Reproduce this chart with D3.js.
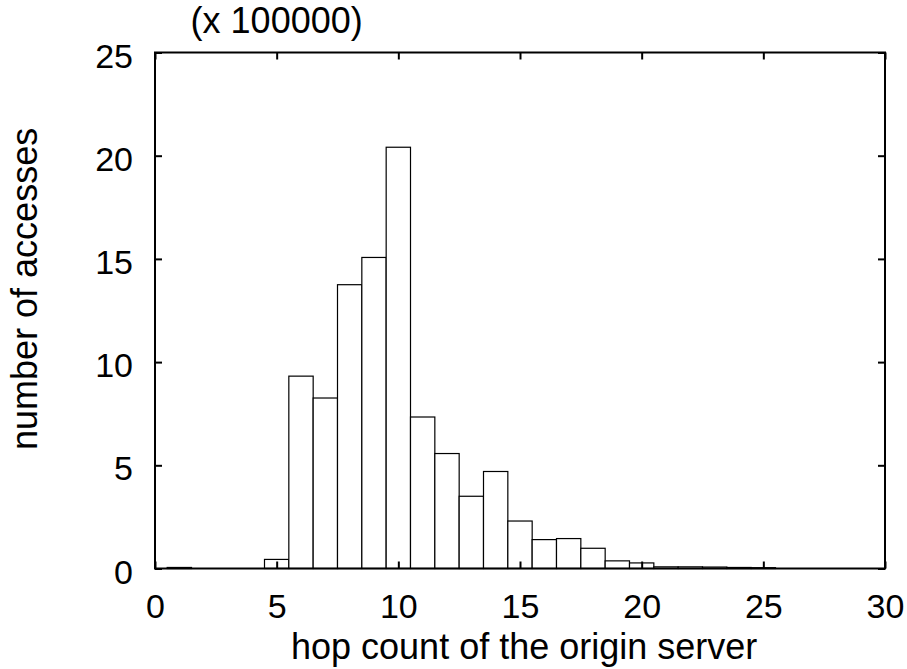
<!DOCTYPE html>
<html>
<head>
<meta charset="utf-8">
<script src="https://cdn.jsdelivr.net/npm/d3@7"></script>
<style>
  html, body { margin: 0; padding: 0; background: #fff; }
  svg { display: block; }
  text { font-family: "Liberation Sans", Arial, Helvetica, sans-serif; fill: #000; }
</style>
</head>
<body>
<svg id="chart" width="907" height="669"></svg>
<script>
// Hop count of the origin server (bin centres) and access counts (units of 100000)
const hops = [1, 2, 3, 4, 5, 6, 7, 8, 9, 10, 11, 12, 13, 14, 15, 16, 17, 18, 19, 20, 21, 22, 23, 24, 25];
const accesses = [0.05, 0, 0, 0, 0.44, 9.32, 8.26, 13.75, 15.07, 20.41, 7.34, 5.57, 3.50, 4.70, 2.30, 1.40, 1.45, 0.98, 0.37, 0.27, 0.08, 0.08, 0.07, 0.05, 0.04];
const xTicks = [0, 5, 10, 15, 20, 25, 30];
const yTicks = [0, 5, 10, 15, 20, 25];
const xTitle = "hop count of the origin server";
const yTitle = "number of accesses";
const scaleNote = "(x 100000)";

const svg = d3.select("#chart");
const plotLeft = 155, plotRight = 885, plotTop = 52.5, plotBottom = 568.5;
const tickFont = 34, titleFont = 36;

const x = d3.scaleLinear().domain([0, 30]).range([plotLeft, plotRight]);
const y = d3.scaleLinear().domain([0, 25]).range([plotBottom, plotTop]);

// histogram bars, one unit wide, centred on each hop count
svg.append("g")
  .selectAll("rect")
  .data(hops.map((h, i) => ({ h, v: accesses[i] })).filter(d => d.v > 0))
  .join("rect")
  .attr("x", d => x(d.h - 0.5))
  .attr("width", d => x(d.h + 0.5) - x(d.h - 0.5))
  .attr("y", d => y(d.v))
  .attr("height", d => y(0) - y(d.v))
  .attr("fill", "#fff")
  .attr("stroke", "#000")
  .attr("stroke-width", 1.2);

// inward ticks on all four sides
const tickLen = 7;
function styleAxis(g) {
  g.select(".domain").remove();
  g.selectAll(".tick line").attr("stroke", "#000").attr("stroke-width", 2);
  g.selectAll("text").style("font-size", tickFont + "px");
}

svg.append("g")
  .attr("transform", `translate(0,${plotBottom})`)
  .call(d3.axisBottom(x).tickValues(xTicks).tickSize(-tickLen).tickPadding(25.5).tickFormat(d3.format("d")))
  .call(styleAxis);

svg.append("g")
  .attr("transform", `translate(0,${plotTop})`)
  .call(d3.axisTop(x).tickValues(xTicks).tickSize(-tickLen).tickFormat(""))
  .call(styleAxis);

svg.append("g")
  .attr("transform", `translate(${plotLeft},0)`)
  .call(d3.axisLeft(y).tickValues(yTicks).tickSize(-tickLen).tickPadding(22).tickFormat(d3.format("d")))
  .call(styleAxis)
  .selectAll("text").attr("dy", "0.43em");

svg.append("g")
  .attr("transform", `translate(${plotRight},0)`)
  .call(d3.axisRight(y).tickValues(yTicks).tickSize(-tickLen).tickFormat(""))
  .call(styleAxis);

// plot frame
svg.append("rect")
  .attr("x", plotLeft).attr("y", plotTop)
  .attr("width", plotRight - plotLeft).attr("height", plotBottom - plotTop)
  .attr("fill", "none").attr("stroke", "#000").attr("stroke-width", 2);

// titles
svg.append("text")
  .attr("x", 291)
  .attr("y", 658.5)
  .attr("text-anchor", "start")
  .style("font-size", titleFont + "px")
  .text(xTitle);

svg.append("text")
  .attr("transform", `translate(37,450) rotate(-90)`)
  .attr("text-anchor", "start")
  .style("font-size", titleFont + "px")
  .text(yTitle);

svg.append("text")
  .attr("x", x(5))
  .attr("y", 33)
  .attr("text-anchor", "middle")
  .style("font-size", titleFont + "px")
  .text(scaleNote);
</script>
</body>
</html>
